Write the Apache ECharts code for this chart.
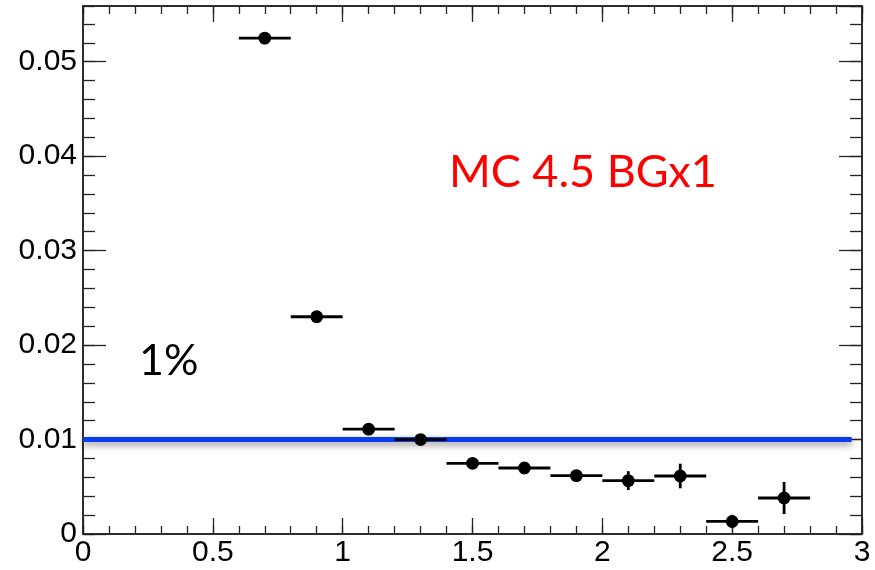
<!DOCTYPE html>
<html>
<head>
<meta charset="utf-8">
<script src="https://cdn.jsdelivr.net/npm/echarts@6/dist/echarts.min.js"></script>
<style>html,body{margin:0;padding:0;background:#fff}#c{width:875px;height:570px}</style>
</head>
<body>
<div id="c"></div>
<script>
// ---- data ----
var xCenters = [0.7, 0.9, 1.1, 1.3, 1.5, 1.7, 1.9, 2.1, 2.3, 2.5, 2.7];
var yValues  = [0.0525, 0.0230, 0.0111, 0.0100, 0.00748, 0.00699, 0.00618, 0.00565, 0.00614, 0.00133, 0.00381];
var xHalfWidth = [0.1, 0.1, 0.1, 0.1, 0.1, 0.1, 0.1, 0.1, 0.1, 0.1, 0.1];
var yErrors  = [0.0002, 0.0002, 0.0002, 0.0002, 0.0003, 0.0003, 0.0004, 0.0010, 0.0013, 0.0007, 0.0017];
var refLineX = [0, 2.96];
var refLineY = 0.01;
var xRange = [0, 3];
var yRange = [0, 0.0559];
var xMajorStep = 0.5, xMinorStep = 0.1;
var yMajorStep = 0.01, yMinorStep = 0.002;
var annotMain = 'MC 4.5 BGx1';
var annotPct = '1%';

var chart = echarts.init(document.getElementById('c'), null, {renderer: 'canvas'});
var frameColor = '#222';
var labelFont = {fontFamily: 'Liberation Sans', fontSize: 30, color: '#000'};

function xAxisDef(pos, interval, tickLen, showLabel) {
  return {
    type: 'value', position: pos, min: xRange[0], max: xRange[1], interval: interval,
    axisLine: {show: true, onZero: false, lineStyle: {color: frameColor, width: 1.5}},
    axisTick: {show: true, inside: true, length: tickLen, lineStyle: {color: frameColor, width: 1.3}},
    axisLabel: Object.assign({show: showLabel, margin: 4,
      formatter: function (v) { return String(+v.toFixed(2)); }}, labelFont),
    splitLine: {show: false}
  };
}
function yAxisDef(pos, interval, tickLen, showLabel) {
  return {
    type: 'value', position: pos, min: yRange[0], max: yRange[1], interval: interval,
    axisLine: {show: true, onZero: false, lineStyle: {color: frameColor, width: 1.5}},
    axisTick: {show: true, inside: true, length: tickLen, lineStyle: {color: frameColor, width: 1.3}},
    axisLabel: Object.assign({show: showLabel, margin: 6, showMaxLabel: false,
      formatter: function (v) { return String(+v.toFixed(3)); }}, labelFont),
    splitLine: {show: false}
  };
}

var errData = xCenters.map(function (x, i) {
  return [x, yValues[i], xHalfWidth[i], yErrors[i]];
});

var option = {
  animation: false,
  grid: {left: 83, right: 13, top: 6, bottom: 36, containLabel: false},
  xAxis: [
    xAxisDef('bottom', xMajorStep, 16, true),
    xAxisDef('bottom', xMinorStep, 8, false),
    xAxisDef('top', xMajorStep, 16, false),
    xAxisDef('top', xMinorStep, 8, false)
  ],
  yAxis: [
    yAxisDef('left', yMajorStep, 23, true),
    yAxisDef('left', yMinorStep, 12, false),
    yAxisDef('right', yMajorStep, 23, false),
    yAxisDef('right', yMinorStep, 12, false)
  ],
  series: [
    {
      type: 'line', xAxisIndex: 0, yAxisIndex: 0, symbol: 'none',
      data: refLineX.map(function (x) { return [x, refLineY]; }),
      lineStyle: {color: '#0b3cf2', width: 5, shadowColor: 'rgba(0,0,0,0.45)', shadowBlur: 7, shadowOffsetY: 3},
      z: 2
    },
    {
      type: 'custom', xAxisIndex: 0, yAxisIndex: 0, data: errData, z: 3,
      renderItem: function (params, api) {
        var x = api.value(0), y = api.value(1), dx = api.value(2), dy = api.value(3);
        var c = api.coord([x, y]);
        var l = api.coord([x - dx, y]);
        var r = api.coord([x + dx, y]);
        var t = api.coord([x, y + dy]);
        var b = api.coord([x, y - dy]);
        var st = {stroke: '#000', lineWidth: 2.8};
        return {
          type: 'group',
          children: [
            {type: 'line', shape: {x1: l[0], y1: l[1], x2: r[0], y2: r[1]}, style: st},
            {type: 'line', shape: {x1: t[0], y1: t[1], x2: b[0], y2: b[1]}, style: st},
            {type: 'circle', shape: {cx: c[0], cy: c[1], r: 6.4}, style: {fill: '#000'}}
          ]
        };
      }
    }
  ],
  graphic: [
    {type: 'text', left: 449, top: 150, style: {text: annotMain, fill: '#ff0000', fontFamily: 'Lato', fontSize: 45}},
    {type: 'text', left: 139, top: 340, style: {text: annotPct, fill: '#000', fontFamily: 'Lato', fontSize: 43}}
  ]
};
chart.setOption(option);
</script>
</body>
</html>
